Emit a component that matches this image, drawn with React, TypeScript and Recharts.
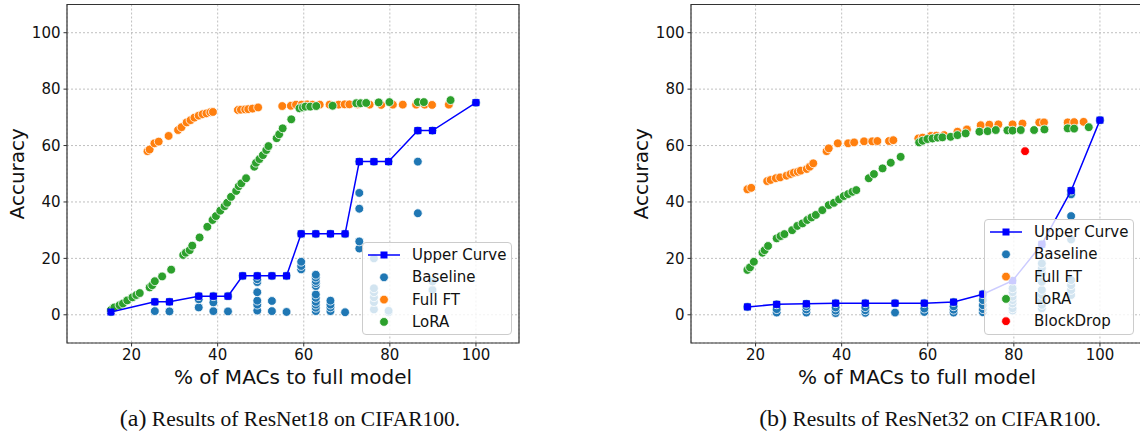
import React from 'react';
import {
	ScatterChart,
	Scatter,
	XAxis,
	YAxis,
	CartesianGrid,
	ReferenceArea,
	Legend,
} from 'recharts';

// ResNet18 / CIFAR100 (left panel)
const r18UpperMacs = [15.2, 25.4, 28.8, 35.6, 39.0, 42.4, 45.8, 49.2, 52.6, 56.0, 59.4, 62.8, 66.2, 69.6, 72.9, 76.3, 79.7, 86.5, 89.9, 100];
const r18UpperAcc = [1.0, 4.6, 4.6, 6.6, 6.6, 6.6, 13.8, 13.8, 13.8, 13.8, 28.7, 28.7, 28.7, 28.7, 54.3, 54.3, 54.3, 65.3, 65.3, 75.2];

const r18BaseMacs = [
	15.2, 25.4, 25.4, 28.8, 28.8, 35.6, 35.6, 35.6, 39.0, 39.0, 39.0, 42.4, 42.4, 45.8,
	49.2, 49.2, 49.2, 49.2, 49.2, 49.2, 49.2, 52.6, 52.6, 52.6, 56.0, 56.0,
	59.4, 59.4, 59.4, 59.4,
	62.8, 62.8, 62.8, 62.8, 62.8, 62.8, 62.8, 62.8, 62.8, 62.8, 62.8, 62.8,
	66.2, 66.2, 66.2, 66.2, 66.2, 69.6, 69.6,
	72.9, 72.9, 72.9, 72.9, 72.9, 76.3, 76.3, 76.3, 76.3, 76.3, 76.3, 76.3,
	79.7, 79.7, 79.7, 86.5, 86.5, 86.5, 89.9, 89.9, 89.9, 100,
];
const r18BaseAcc = [
	1.0, 1.3, 4.6, 1.2, 4.6, 2.6, 5.5, 6.6, 1.3, 4.4, 6.6, 1.2, 6.6, 13.8,
	1.5, 3.6, 5.0, 8.0, 11.6, 12.6, 13.8, 1.3, 4.9, 13.8, 1.0, 13.8,
	16.1, 17.3, 18.8, 28.7,
	1.3, 2.5, 3.6, 4.6, 6.0, 7.2, 10.2, 11.2, 12.0, 13.2, 14.2, 28.7,
	1.3, 2.6, 3.6, 5.0, 28.7, 0.9, 28.7,
	23.5, 26.0, 37.6, 43.2, 54.3, 1.9, 4.5, 6.2, 8.0, 9.4, 20.0, 54.3,
	0.9, 1.4, 54.3, 36.0, 54.3, 65.3, 8.8, 11.8, 65.3, 75.2,
];

const r18FullMacs = [
	23.7, 24.2, 25.3, 26.3, 28.6, 30.8, 31.6, 32.8, 33.7, 34.6, 35.6, 36.5, 37.4, 38.3, 38.9,
	44.7, 45.4, 46.4, 47.1, 48.1, 49.4, 55.0, 57.0, 58.2, 59.5, 60.8, 62.0, 63.7, 66.0, 68.1,
	69.5, 70.6, 72.5, 75.3, 78.0, 80.7, 83.0, 86.1, 88.1, 89.8, 93.7,
];
const r18FullAcc = [
	58.0, 58.6, 60.8, 61.4, 63.4, 65.5, 66.5, 68.2, 69.0, 69.9, 70.6, 71.1, 71.4, 71.8, 71.9,
	72.6, 72.7, 72.8, 72.9, 73.1, 73.5, 74.0, 74.1, 74.5, 74.5, 74.6, 74.5, 74.5, 74.5, 74.5,
	74.6, 74.6, 74.6, 74.5, 74.4, 74.5, 74.5, 74.5, 74.5, 74.4, 74.5,
];

const r18LoraMacs = [
	15.2, 16.0, 17.2, 18.0, 19.0, 20.2, 21.1, 21.9, 24.2, 24.8, 25.4, 27.1, 29.2, 32.0, 32.6,
	33.5, 34.1, 35.8, 37.6, 38.8, 39.6, 40.6, 41.6, 42.2, 43.1, 44.3, 44.9, 45.5, 46.6, 48.5,
	48.9, 49.7, 50.5, 51.3, 51.8, 53.7, 54.3, 55.1, 57.1, 59.0, 59.8, 60.4, 61.5, 62.9, 66.7,
	72.2, 73.2, 74.5, 77.4, 79.9, 86.5, 87.9, 94.1,
];
const r18LoraAcc = [
	1.7, 2.6, 3.4, 4.0, 5.1, 6.2, 7.0, 7.7, 9.7, 10.5, 11.9, 13.6, 16.0, 21.2, 22.0,
	22.9, 24.5, 27.4, 31.2, 33.6, 35.0, 36.9, 38.5, 39.7, 41.8, 43.9, 45.6, 46.6, 48.4, 52.5,
	53.9, 55.2, 56.6, 58.4, 59.8, 62.6, 64.0, 66.1, 69.3, 73.2, 73.5, 73.8, 73.8, 74.0, 74.1,
	75.0, 75.0, 75.1, 75.3, 75.4, 75.4, 75.4, 76.1,
];

// ResNet32 / CIFAR100 (right panel)
const r32UpperMacs = [18.1, 24.9, 31.8, 38.6, 45.5, 52.4, 59.2, 66.0, 72.8, 79.7, 86.5, 93.3, 100];
const r32UpperAcc = [2.8, 3.7, 3.9, 4.1, 4.1, 4.1, 4.1, 4.5, 7.3, 12.1, 25.0, 44.0, 69.0];

const r32BaseMacs = [
	18.1, 24.9, 24.9, 24.9, 31.8, 31.8, 31.8, 31.8, 38.6, 38.6, 38.6, 38.6, 45.5, 45.5, 45.5, 45.5,
	52.4, 52.4, 59.2, 59.2, 59.2, 66.0, 66.0, 66.0, 66.0, 72.8, 72.8, 72.8, 72.8, 72.8,
	79.7, 79.7, 79.7, 79.7, 79.7, 79.7, 79.7, 79.7,
	86.5, 86.5, 86.5, 86.5, 86.5, 86.5, 86.5, 86.5, 86.5, 86.5,
	93.3, 93.3, 93.3, 93.3, 93.3, 93.3, 93.3, 93.3, 100,
];
const r32BaseAcc = [
	2.8, 0.8, 2.0, 3.7, 0.8, 1.9, 3.0, 3.9, 0.6, 1.5, 2.6, 4.1, 0.7, 1.6, 2.7, 4.1,
	0.8, 4.1, 1.0, 2.2, 4.1, 0.8, 1.8, 3.0, 4.5, 0.9, 2.0, 3.4, 5.2, 7.3,
	1.5, 2.3, 4.0, 5.2, 6.4, 8.0, 9.4, 12.1,
	2.3, 3.5, 5.2, 7.0, 8.8, 11.7, 14.7, 16.5, 18.2, 25.0,
	7.0, 8.8, 10.5, 12.3, 26.7, 35.0, 42.7, 44.0, 69.0,
];

const r32FullMacs = [
	18.1, 19.0, 22.7, 23.5, 24.7, 25.7, 27.2, 28.1, 28.9, 29.8, 30.5, 31.9, 32.6, 33.4, 36.5,
	37.0, 39.1, 41.5, 42.9, 45.2, 47.1, 48.3, 51.0, 52.0, 57.8, 58.8, 60.7, 62.0, 63.8, 66.9,
	69.1, 72.3, 74.3, 76.4, 79.7, 82.0, 85.9, 87.0, 92.5, 94.0, 96.2,
];
const r32FullAcc = [
	44.5, 45.0, 47.4, 47.8, 48.4, 48.7, 49.3, 49.9, 50.4, 50.7, 51.1, 51.7, 52.5, 53.7, 58.0,
	59.0, 60.8, 60.8, 61.1, 61.5, 61.5, 61.6, 61.6, 61.9, 62.5, 62.8, 63.4, 63.5, 63.7, 64.9,
	65.7, 67.2, 67.4, 67.5, 67.5, 67.8, 68.2, 68.2, 68.2, 68.3, 68.4,
];

const r32LoraMacs = [
	18.1, 18.7, 19.6, 21.6, 22.1, 22.9, 24.9, 25.8, 26.7, 28.5, 29.7, 30.9, 32.0, 33.0, 34.0,
	35.5, 37.0, 38.2, 39.4, 40.5, 41.5, 42.5, 43.4, 46.3, 47.5, 49.5, 51.4, 53.7, 58.0, 58.8,
	59.9, 61.1, 62.3, 63.4, 65.3, 66.9, 68.8, 72.0, 73.9, 75.8, 78.5, 79.7, 81.6, 84.7, 87.1,
	92.5, 94.0, 97.4,
];
const r32LoraAcc = [
	15.9, 16.8, 18.8, 22.0, 22.9, 24.4, 27.1, 27.9, 28.6, 30.0, 31.5, 32.4, 33.6, 34.5, 35.4,
	37.1, 38.9, 39.7, 40.9, 42.1, 42.8, 43.6, 44.2, 48.4, 49.9, 51.9, 53.9, 56.0, 61.1, 61.7,
	62.3, 62.5, 62.8, 62.9, 63.1, 63.7, 64.3, 64.9, 65.1, 65.5, 65.4, 65.3, 65.5, 65.5, 65.7,
	66.1, 66.0, 66.5,
];

const r32BlockDropMacs = [82.6];
const r32BlockDropAcc = [58.0];

const xTicks = [20, 40, 60, 80, 100];
const yTicks = [0, 20, 40, 60, 80, 100];

const BLUE_LINE = '#0000ff';
const C_BASE = '#1f77b4';
const C_FULL = '#ff7f0e';
const C_LORA = '#2ca02c';
const C_BLOCK = '#ff0000';
const FONT = '"DejaVu Sans", sans-serif';

const zip = (xs: number[], ys: number[]) => xs.map((x, i) => ({ x, y: ys[i] }));

const dot = (color: string) => (props: any) => (
	<circle cx={props.cx} cy={props.cy} r={4.4} fill={color} stroke="#fff" strokeWidth={0.8} />
);

const square = (props: any) => (
	<rect x={props.cx - 3.5} y={props.cy - 3.5} width={7} height={7} fill={BLUE_LINE} />
);

type LegendItem = { name: string; color: string; line?: boolean };

function LegendBox({ items }: { items: LegendItem[] }) {
	const rowH = 22.3;
	const h = items.length * rowH + 4;
	return (
		<div
			style={{
				width: '100%',
				height: '100%',
				boxSizing: 'border-box',
				border: '1px solid #cccccc',
				borderRadius: 4,
				background: 'rgba(255,255,255,0.8)',
			}}
		>
			<svg width="100%" height={h} style={{ display: 'block' }}>
				{items.map((it, i) => {
					const cy = 12 + i * rowH;
					return (
						<g key={it.name}>
							{it.line && (
								<line x1={5} x2={37} y1={cy} y2={cy} stroke={it.color} strokeWidth={1.5} />
							)}
							{it.line ? (
								<rect x={17.5} y={cy - 3.5} width={7} height={7} fill={it.color} />
							) : (
								<circle cx={21} cy={cy} r={4.4} fill={it.color} stroke="#fff" strokeWidth={0.8} />
							)}
							<text x={49} y={cy} dominantBaseline="central" fontSize={15} fontFamily={FONT} fill="#111">
								{it.name}
							</text>
						</g>
					);
				})}
			</svg>
		</div>
	);
}

type Series = { name: string; data: { x: number; y: number }[]; color: string };

function Panel({
	upper,
	series,
	legendItems,
	legendPos,
}: {
	upper: { x: number; y: number }[];
	series: Series[];
	legendItems: LegendItem[];
	legendPos: { left: number; top: number; width: number; height: number };
}) {
	return (
		<ScatterChart width={540} height={432} margin={{ top: 4.5, right: 21, left: 7, bottom: 44 }}>
			<CartesianGrid stroke="#b0b0b0" strokeDasharray="2 2" strokeWidth={0.8} />
			<XAxis
				type="number"
				dataKey="x"
				domain={[5, 110]}
				ticks={xTicks}
				allowDataOverflow
				height={45}
				axisLine={false}
				tickSize={3.5}
				tickMargin={3}
				tickLine={{ stroke: '#333' }}
				tick={{ fontSize: 15, fontFamily: FONT, fill: '#111' }}
				label={{
					value: '% of MACs to full model',
					position: 'insideBottom',
					offset: 4,
					fontSize: 20,
					fontFamily: FONT,
					fill: '#111',
				}}
			/>
			<YAxis
				type="number"
				dataKey="y"
				domain={[-10, 110]}
				ticks={yTicks}
				allowDataOverflow
				width={60}
				axisLine={false}
				tickSize={3.5}
				tickMargin={3}
				tickLine={{ stroke: '#333' }}
				tick={{ fontSize: 15, fontFamily: FONT, fill: '#111' }}
				label={{
					value: 'Accuracy',
					angle: -90,
					position: 'insideLeft',
					offset: 10,
					fontSize: 20,
					fontFamily: FONT,
					fill: '#111',
					style: { textAnchor: 'middle' },
				}}
			/>
			{series.map((s) => (
				<Scatter
					key={s.name}
					name={s.name}
					data={s.data}
					shape={dot(s.color)}
					fill={s.color}
					isAnimationActive={false}
				/>
			))}
			<Scatter
				name="Upper Curve"
				data={upper}
				shape={square}
				fill={BLUE_LINE}
				line={{ stroke: BLUE_LINE, strokeWidth: 1.5 }}
				isAnimationActive={false}
			/>
			<ReferenceArea x1={5} x2={110} y1={-10} y2={110} fill="none" stroke="#333" strokeWidth={1.2} ifOverflow="visible" />
			<Legend
				layout="vertical"
				align="center"
				verticalAlign="middle"
				wrapperStyle={{ ...legendPos }}
				content={() => <LegendBox items={legendItems} />}
			/>
		</ScatterChart>
	);
}

const captionStyle: React.CSSProperties = {
	position: 'absolute',
	top: 404,
	width: 440,
	textAlign: 'center',
	fontFamily: '"Liberation Serif", "Times New Roman", serif',
	fontSize: 21.5,
	color: '#111',
	whiteSpace: 'nowrap',
	lineHeight: '28px',
};

export default function App() {
	const leftLegend: LegendItem[] = [
		{ name: 'Upper Curve', color: BLUE_LINE, line: true },
		{ name: 'Baseline', color: C_BASE },
		{ name: 'Full FT', color: C_FULL },
		{ name: 'LoRA', color: C_LORA },
	];
	const rightLegend: LegendItem[] = [...leftLegend, { name: 'BlockDrop', color: C_BLOCK }];

	return (
		<div
			style={{
				position: 'fixed',
				left: 0,
				top: 0,
				width: 1140,
				height: 432,
				background: '#fff',
				overflow: 'hidden',
			}}
		>
			<div style={{ position: 'absolute', left: 0, top: 0 }}>
				<Panel
					upper={zip(r18UpperMacs, r18UpperAcc)}
					series={[
						{ name: 'Baseline', data: zip(r18BaseMacs, r18BaseAcc), color: C_BASE },
						{ name: 'Full FT', data: zip(r18FullMacs, r18FullAcc), color: C_FULL },
						{ name: 'LoRA', data: zip(r18LoraMacs, r18LoraAcc), color: C_LORA },
					]}
					legendItems={leftLegend}
					legendPos={{ left: 361.7, top: 241.7, width: 150.3, height: 93.3 }}
				/>
			</div>
			<div style={{ position: 'absolute', left: 623.5, top: 0 }}>
				<Panel
					upper={zip(r32UpperMacs, r32UpperAcc)}
					series={[
						{ name: 'Baseline', data: zip(r32BaseMacs, r32BaseAcc), color: C_BASE },
						{ name: 'Full FT', data: zip(r32FullMacs, r32FullAcc), color: C_FULL },
						{ name: 'LoRA', data: zip(r32LoraMacs, r32LoraAcc), color: C_LORA },
						{ name: 'BlockDrop', data: zip(r32BlockDropMacs, r32BlockDropAcc), color: C_BLOCK },
					]}
					legendItems={rightLegend}
					legendPos={{ left: 360.5, top: 219, width: 150, height: 116 }}
				/>
			</div>
			<div style={{ ...captionStyle, left: 290 - 220 }}>
				<span style={{ fontSize: 24 }}>(a)</span> Results of ResNet18 on CIFAR100.
			</div>
			<div style={{ ...captionStyle, left: 930 - 220 }}>
				<span style={{ fontSize: 24 }}>(b)</span> Results of ResNet32 on CIFAR100.
			</div>
		</div>
	);
}
